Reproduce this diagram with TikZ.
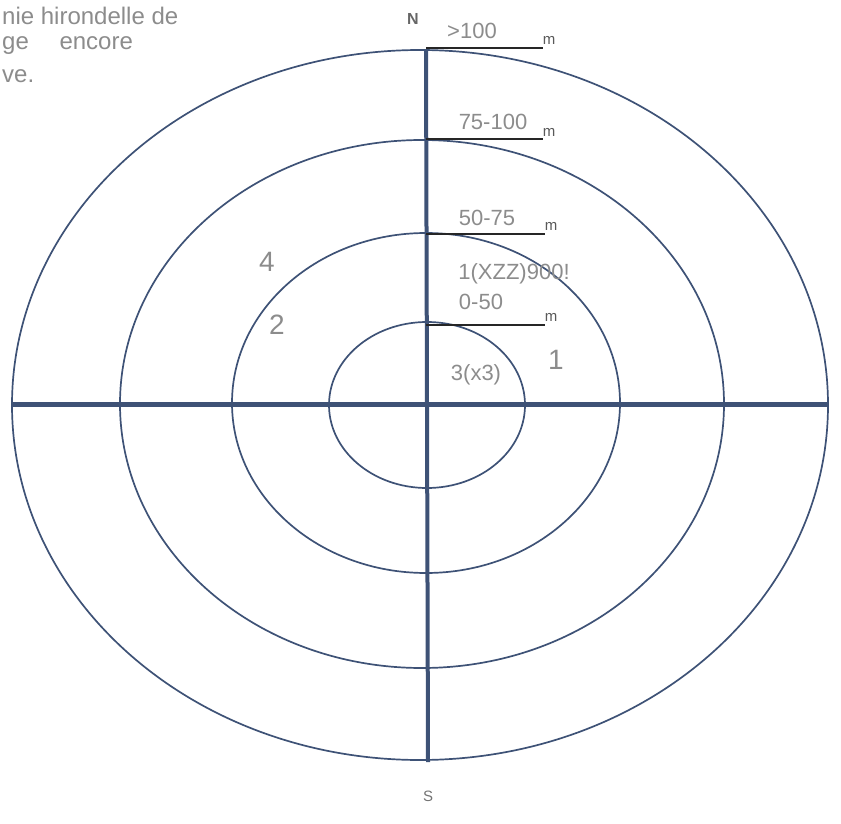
\documentclass[tikz,border=0pt]{standalone}
\usepackage{fontspec}
\setmainfont{Liberation Sans}
\usepackage{xcolor}
\usetikzlibrary{positioning}

\definecolor{ink}{RGB}{62,82,118}
\definecolor{pencil}{RGB}{140,140,140}

\begin{document}
\begin{tikzpicture}[
    x=1pt, y=-1pt,
    ring/.style={draw=ink, line width=1.7pt},
    axis/.style={draw=ink, line width=5pt},
    tick/.style={draw=black!85, line width=1.4pt},
    note/.style={text=pencil, inner sep=0pt, font=\fontsize{22}{24}\selectfont},
    digit/.style={note, font=\fontsize{28}{30}\selectfont},
    unit/.style={text=black!65, inner sep=0pt, font=\fontsize{15}{17}\selectfont}
]
\useasboundingbox (0,0) rectangle (841,824);

% rings
\draw[ring] (420,405) ellipse [x radius=408, y radius=355];
\draw[ring] (422,404) ellipse [x radius=302, y radius=264];
\draw[ring] (426,403) ellipse [x radius=194, y radius=170];
\draw[ring] (427,405) ellipse [x radius=98, y radius=83];

% axes
\coordinate (north) at (426,50);
\coordinate (south) at (428,762);
\coordinate (west) at (12,404);
\coordinate (east) at (828,404);
\draw[axis] (west) -- (east);
\draw[axis, line width=4pt] (north) -- (south);

% distance ticks
\coordinate (t100) at (426,48);
\coordinate (t75) at (426,139);
\coordinate (t50) at (426,234);
\coordinate (t0) at (426,325);
\node[unit] (m100) at (549,40) {m};
\node[unit] (m75) at (549,132) {m};
\node[unit] (m50) at (551,226) {m};
\node[unit] (m0) at (551,317) {m};
\draw[tick] (t100) -- (t100 -| m100.west);
\draw[tick] (t75) -- (t75 -| m75.west);
\draw[tick] (t50) -- (t50 -| m50.west);
\draw[tick] (t0) -- (t0 -| m0.west);

% labels
\node[text=black!60, inner sep=0pt, font=\bfseries\fontsize{16}{18}\selectfont] (n) at (413,19) {N};
\node[note] (over) at (472,31) {>100};
\node[note] (r75) at (493,122) {75-100};
\node[note] (r50) at (487,218) {50-75};
\node[note] (obs) at (514,274) {1(XZZ)900!};
\node[note] (r0) at (481,302) {0-50};
\node[note] (three) at (476,375) {3(x3)};
\node[digit] (one) at (556,360) {1};
\node[digit] (four) at (267,262) {4};
\node[digit] (two) at (277,325) {2};
\node[text=black!55, inner sep=0pt, font=\fontsize{15}{17}\selectfont] (s) at (428,796) {S};

% note, top left
\node[note, anchor=west, font=\fontsize{24}{26}\selectfont] (l1) at (2,16) {nie hirondelle de};
\node[note, anchor=west, font=\fontsize{24}{26}\selectfont] (l2) at (2,46) {ge \quad encore};
\node[note, anchor=west, font=\fontsize{24}{26}\selectfont] (l3) at (2,76) {ve.};
\end{tikzpicture}
\end{document}
